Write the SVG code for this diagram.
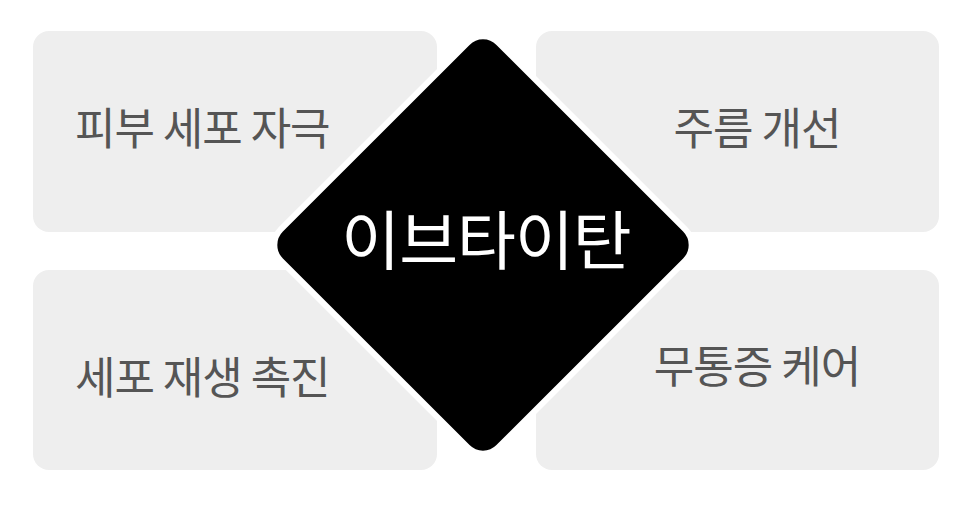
<svg xmlns="http://www.w3.org/2000/svg" width="966" height="506" viewBox="0 0 966 506">
<style>
.box{fill:#eeeeee;}
.lbl{font-family:"Noto Sans CJK KR","Noto Sans",sans-serif;font-size:44px;font-weight:400;fill:#555555;letter-spacing:-1px;dominant-baseline:central;}
.center{font-family:"Noto Sans CJK KR","Noto Sans",sans-serif;font-size:64px;font-weight:400;fill:#ffffff;letter-spacing:-1px;dominant-baseline:central;text-anchor:middle;}
</style>
<rect width="966" height="506" fill="#ffffff"/>
<g id="connectors"></g>
<g id="node-skin">
<rect class="box" x="33" y="31" width="404" height="201" rx="16"/>
<text class="lbl" x="75" y="126">피부 세포 자극</text>
</g>
<g id="node-wrinkle">
<rect class="box" x="536" y="31" width="403" height="201" rx="16"/>
<text class="lbl" x="757" y="126" text-anchor="middle">주름 개선</text>
</g>
<g id="node-regen">
<rect class="box" x="33" y="270" width="404" height="200" rx="16"/>
<text class="lbl" x="75" y="375">세포 재생 촉진</text>
</g>
<g id="node-pain">
<rect class="box" x="536" y="270" width="403" height="200" rx="16"/>
<text class="lbl" x="757" y="364" text-anchor="middle">무통증 케어</text>
</g>
<g id="node-center">
<rect x="329" y="91" width="308" height="308" rx="22" fill="#000000" stroke="#ffffff" stroke-width="6" transform="rotate(45 483 245)"/>
<text class="center" x="486" y="236">이브타이탄</text>
</g>
</svg>
